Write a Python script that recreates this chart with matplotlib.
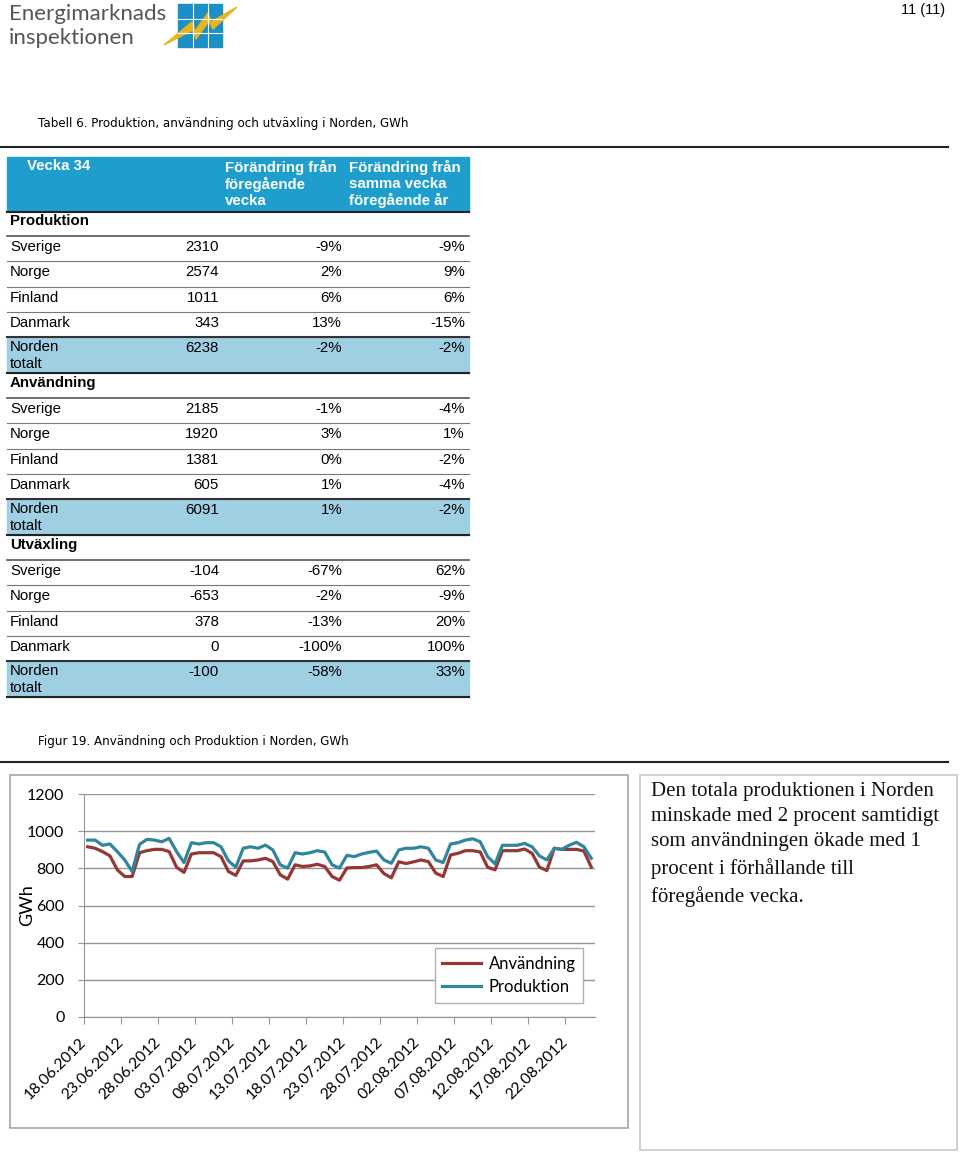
import matplotlib.pyplot as plt
import matplotlib.transforms as mtransforms
from matplotlib.patches import Rectangle, Polygon

# --- table data (vecka 34) ---
sections = ["Produktion", "Användning", "Utväxling"]
countries = ["Sverige", "Norge", "Finland", "Danmark", "Norden\ntotalt"]
prod_gwh = [2310, 2574, 1011, 343, 6238]
prod_week = ["-9%", "2%", "6%", "13%", "-2%"]
prod_year = ["-9%", "9%", "6%", "-15%", "-2%"]
anv_gwh = [2185, 1920, 1381, 605, 6091]
anv_week = ["-1%", "3%", "0%", "1%", "1%"]
anv_year = ["-4%", "1%", "-2%", "-4%", "-2%"]
utv_gwh = [-104, -653, 378, 0, -100]
utv_week = ["-67%", "-2%", "-13%", "-100%", "-58%"]
utv_year = ["62%", "-9%", "20%", "100%", "33%"]

# --- chart data, daily GWh 18.06.2012 - 25.08.2012 ---
tick_dates = ["18.06.2012", "23.06.2012", "28.06.2012", "03.07.2012", "08.07.2012",
              "13.07.2012", "18.07.2012", "23.07.2012", "28.07.2012", "02.08.2012",
              "07.08.2012", "12.08.2012", "17.08.2012", "22.08.2012"]
anvandning = [916, 908, 890, 867, 792, 756, 756, 884, 895, 902, 902, 890, 806, 778,
              877, 884, 884, 884, 863, 783, 762, 840, 840, 845, 854, 836, 765, 742,
              819, 810, 813, 822, 810, 756, 736, 802, 804, 804, 810, 819, 772, 749,
              835, 826, 835, 845, 836, 774, 756, 872, 881, 895, 895, 888, 806, 792,
              895, 895, 895, 904, 881, 806, 788, 908, 902, 902, 902, 893, 806]
produktion = [952, 952, 924, 931, 890, 845, 783, 929, 956, 952, 943, 961, 890, 831,
              938, 931, 938, 938, 916, 840, 806, 908, 916, 908, 925, 899, 819, 801,
              884, 877, 884, 895, 888, 819, 801, 870, 863, 877, 886, 893, 845, 827,
              899, 908, 908, 916, 908, 845, 831, 931, 938, 952, 959, 943, 863, 824,
              924, 924, 924, 934, 916, 867, 845, 908, 902, 924, 940, 916, 854]

W, H = 960, 1153
fig = plt.figure(figsize=(W / 100, H / 100), dpi=100)
page = fig.add_axes([0, 0, 1, 1])
page.set_xlim(0, W)
page.set_ylim(H, 0)
page.axis("off")

# logo
page.text(9, 14, "Energimarknads", fontsize=16, family="Lato",
          color="#555555", va="center")
page.text(9, 38, "inspektionen", fontsize=16, family="Lato",
          color="#555555", va="center")
page.add_patch(Rectangle((178, 4), 44, 43, color="#1b8fc6"))
for gx in (192.5, 207.5):
    page.plot([gx, gx], [4, 47], color="white", lw=0.8)
for gy in (18.5, 32.5):
    page.plot([178, 222], [gy, gy], color="white", lw=0.8)
page.add_patch(Polygon([(164, 45), (192, 22), (195, 31), (208, 13), (211, 22), (237, 7),
                        (213, 29), (209, 21), (196, 39), (193, 30)],
                       closed=True, color="#e8b51c"))
page.text(945, 10, "11 (11)", fontsize=10.5, ha="right", va="center", family="Liberation Sans")

# table title
page.text(38, 124, "Tabell 6. Produktion, användning och utväxling i Norden, GWh",
          fontsize=8.6, va="center", color="black")
page.plot([0, 948], [147, 147], color="#222222", lw=1.5)

# table header
TF = dict(family="Liberation Sans", fontsize=10.8)
page.add_patch(Rectangle((7, 157), 462, 54, color="#1f9ecd"))
page.plot([7, 469], [211.5, 211.5], color="#222222", lw=1.5)
page.text(27, 166, "Vecka 34", color="white", weight="bold", va="center", **TF)
page.text(225, 184, "Förändring från\nföregående\nvecka", color="white", weight="bold",
          va="center", linespacing=1.2, **TF)
page.text(349, 184, "Förändring från\nsamma vecka\nföregående år", color="white",
          weight="bold", va="center", linespacing=1.2, **TF)

data = [(prod_gwh, prod_week, prod_year), (anv_gwh, anv_week, anv_year),
        (utv_gwh, utv_week, utv_year)]
pitch = 25.25
for k, (gwh, wk, yr) in enumerate(data):
    base = 236 + 162 * k
    page.text(10, base - 15, sections[k], weight="bold", va="center", **TF)
    page.plot([7, 469], [base, base], color="#555555", lw=1.2)
    for i in range(5):
        yc = base + 11 + pitch * i
        if i == 4:
            top = base + pitch * 4
            page.add_patch(Rectangle((7, top), 462, 36, color="#9fcfe3", zorder=0))
            page.plot([7, 469], [top + 36, top + 36], color="#222222", lw=1.5)
            page.plot([7, 469], [top, top], color="#333333", lw=1.5)
            page.text(10, yc - 1, "Norden", va="center", **TF)
            page.text(10, yc + 16, "totalt", va="center", **TF)
        else:
            page.plot([7, 469], [base + pitch * (i + 1)] * 2, color="#777777", lw=0.8)
            page.text(10, yc, countries[i], va="center", **TF)
        page.text(219, yc, str(gwh[i]), ha="right", va="center", **TF)
        page.text(342, yc, wk[i], ha="right", va="center", **TF)
        page.text(465, yc, yr[i], ha="right", va="center", **TF)

# figure title
page.text(38, 742, "Figur 19. Användning och Produktion i Norden, GWh",
          fontsize=8.6, va="center", color="black")
page.plot([0, 948], [762, 762], color="#222222", lw=1.5)

# chart frame and text box
page.add_patch(Rectangle((10, 775), 618, 353, fill=False, ec="#a6a6a6", lw=1.2))
page.add_patch(Rectangle((640, 775), 317, 375, fill=False, ec="#c8c8c8", lw=1.2))
page.text(651, 782, "Den totala produktionen i Norden\nminskade med 2 procent samtidigt\n"
          "som användningen ökade med 1\nprocent i förhållande till\nföregående vecka.",
          family="Liberation Serif", fontsize=15, va="top", linespacing=1.43,
          color="#111111")

# chart
x0, x1, y0, y1 = 84, 595, 794, 1017
ax = fig.add_axes([x0 / W, (H - y1) / H, (x1 - x0) / W, (y1 - y0) / H])
days = list(range(len(produktion)))
ax.plot(days, anvandning, color="#953735", lw=2.3, label="Användning")
ax.plot(days, produktion, color="#31859c", lw=2.3, label="Produktion")
ax.set_xlim(-0.5, len(days) - 0.5)
ax.set_ylim(0, 1200)
ax.set_yticks(range(0, 1201, 200))
ax.grid(axis="y", color="#959595", lw=1)
ax.set_axisbelow(True)
for s in ("top", "right"):
    ax.spines[s].set_visible(False)
for s in ("left", "bottom"):
    ax.spines[s].set_color("#959595")
tick_pos = [-0.5 + 5 * i for i in range(len(tick_dates))]
ax.set_xticks(tick_pos)
ax.set_xticklabels([])
# rotated date labels, placed like the original
off = mtransforms.ScaledTranslation(0, -23 / 100, fig.dpi_scale_trans)
for xp, lab in zip(tick_pos, tick_dates):
    ax.text(xp, 0, lab, transform=ax.transData + off, rotation=45, ha="right",
            va="center", rotation_mode="anchor", family="Lato", fontsize=11.3,
            clip_on=False)
ax.tick_params(axis="x", color="#959595", length=5)
ax.tick_params(axis="y", color="#959595", length=4, labelsize=11.5, pad=10)
for lab in ax.get_yticklabels():
    lab.set_family("Lato")
ax.set_ylabel("GWh", family="Lato", fontsize=13)
ax.yaxis.set_label_coords(-0.096, 0.5)
leg = ax.legend(loc="center", bbox_to_anchor=(0.832, 0.186), frameon=True,
                fancybox=False, framealpha=1, edgecolor="#b0b0b0", handlelength=2.3,
                handletextpad=0.5, prop={"family": "Lato", "size": 12},
                borderpad=0.45, labelspacing=0.45)
leg.get_frame().set_linewidth(1)

fig.savefig("out.png", dpi=100)
